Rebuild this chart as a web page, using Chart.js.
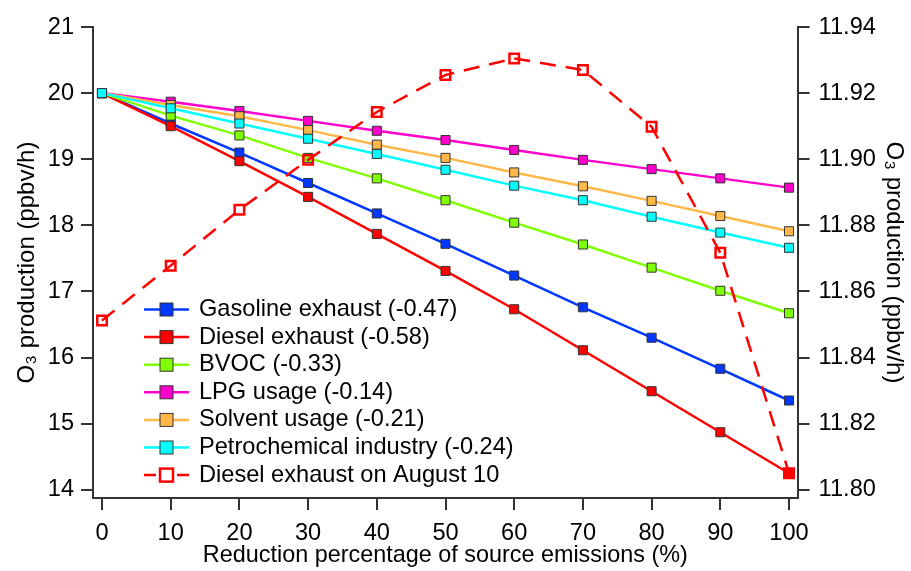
<!DOCTYPE html>
<html>
<head>
<meta charset="utf-8">
<script src="https://cdn.jsdelivr.net/npm/chart.js@4/dist/chart.umd.min.js"></script>
<style>
  html, body { margin: 0; padding: 0; background: #fff; }
  #wrap { width: 911px; height: 571px; }
</style>
</head>
<body>
<div id="wrap"><canvas id="o3Chart" width="911" height="571"></canvas></div>
<script>
// reduction percentage (x)
const reduction = [0, 10, 20, 30, 40, 50, 60, 70, 80, 90, 100];

// O3 production, left axis (ppbv/h)
const gasoline = [20, 19.54, 19.10, 18.64, 18.18, 17.72, 17.24, 16.76, 16.30, 15.83, 15.35];
const diesel   = [20, 19.50, 18.97, 18.43, 17.87, 17.31, 16.73, 16.11, 15.49, 14.87, 14.25];
const bvoc     = [20, 19.66, 19.36, 19.02, 18.71, 18.38, 18.04, 17.71, 17.36, 17.01, 16.67];
const lpg      = [20, 19.87, 19.73, 19.58, 19.43, 19.29, 19.14, 18.99, 18.85, 18.71, 18.57];
const solvent  = [20, 19.82, 19.65, 19.44, 19.22, 19.02, 18.80, 18.59, 18.37, 18.14, 17.91];
const petro    = [20, 19.77, 19.54, 19.31, 19.08, 18.84, 18.60, 18.38, 18.13, 17.89, 17.66];

// diesel exhaust on August 10, right axis
const dieselAug10 = [11.8512, 11.8678, 11.8847, 11.8998, 11.9143, 11.9255, 11.9305, 11.9270, 11.9098, 11.8717, 11.8050];

const seriesNames = [
    'Gasoline exhaust (-0.47)',
    'Diesel exhaust (-0.58)',
    'BVOC (-0.33)',
    'LPG usage (-0.14)',
    'Solvent usage (-0.21)',
    'Petrochemical industry (-0.24)',
    'Diesel exhaust on August 10'
];

// tick labels
const xTicks = [0, 10, 20, 30, 40, 50, 60, 70, 80, 90, 100];
const leftTicks = [14, 15, 16, 17, 18, 19, 20, 21];
const rightTicks = [11.80, 11.82, 11.84, 11.86, 11.88, 11.90, 11.92, 11.94];

const FONT = "'Liberation Sans', Arial, sans-serif";
const AXIS = '#333';

function pts(arr) {
    return arr.map((v, i) => ({ x: reduction[i], y: v }));
}

function solid(label, data, color, order) {
    return {
        label: label,
        data: pts(data),
        borderColor: color,
        backgroundColor: color,
        borderWidth: 2.5,
        pointStyle: 'rect',
        pointRadius: 6.4,
        pointBackgroundColor: color,
        pointBorderColor: AXIS,
        pointBorderWidth: 1,
        yAxisID: 'y',
        order: order
    };
}

const datasets = [
    solid(seriesNames[0], gasoline, '#0038FF', 6),
    solid(seriesNames[1], diesel, '#FF0000', 5),
    solid(seriesNames[2], bvoc, '#80FF00', 4),
    solid(seriesNames[3], lpg, '#FF00CC', 3),
    solid(seriesNames[4], solvent, '#FFB848', 2),
    solid(seriesNames[5], petro, '#00FFFF', 1),
    {
        label: seriesNames[6],
        data: pts(dieselAug10),
        borderColor: '#FF0000',
        borderWidth: 2.5,
        borderDash: [16, 10],
        pointStyle: 'rect',
        pointRadius: 6.7,
        pointBackgroundColor: 'rgba(255,255,255,0)',
        pointBorderColor: '#FF0000',
        pointBorderWidth: 2.5,
        yAxisID: 'y2',
        order: 0
    }
];

// legend sits inside the plot, drawn by hand
const innerLegend = {
    id: 'innerLegend',
    afterDraw(chart) {
        const ctx = chart.ctx;
        const x0 = 144, x1 = 189, mx = 166.5, tx = 199;
        let y = 309.5;
        ctx.save();
        ctx.font = '23.6px ' + FONT;
        ctx.textBaseline = 'middle';
        ctx.fillStyle = '#000';
        chart.data.datasets.forEach(ds => {
            ctx.lineWidth = 2.5;
            ctx.strokeStyle = ds.borderColor;
            ctx.setLineDash([]);
            if (ds.borderDash) {
                ctx.beginPath();
                ctx.moveTo(x0, y); ctx.lineTo(156, y);
                ctx.moveTo(177, y); ctx.lineTo(x1, y);
                ctx.stroke();
                ctx.strokeStyle = ds.pointBorderColor;
                ctx.strokeRect(mx - 6.5, y - 6.5, 13, 13);
            } else {
                ctx.beginPath();
                ctx.moveTo(x0, y); ctx.lineTo(x1, y);
                ctx.stroke();
                ctx.fillStyle = ds.pointBackgroundColor;
                ctx.fillRect(mx - 6.5, y - 6.5, 13, 13);
                ctx.lineWidth = 1;
                ctx.strokeStyle = AXIS;
                ctx.strokeRect(mx - 6.5, y - 6.5, 13, 13);
            }
            ctx.fillStyle = '#000';
            ctx.fillText(ds.label, tx, y);
            y += 27.6;
        });
        ctx.restore();
    }
};

const gridOpts = { drawOnChartArea: false, drawTicks: true, tickLength: 12, color: AXIS, lineWidth: 2 };
const borderOpts = { display: true, color: AXIS, width: 2 };
const tickFont = { family: FONT, size: 23.6 };
const titleFont = { family: FONT, size: 24 };

new Chart(document.getElementById('o3Chart').getContext('2d'), {
    type: 'line',
    data: { datasets: datasets },
    plugins: [innerLegend],
    options: {
        responsive: false,
        animation: false,
        devicePixelRatio: 1,
        layout: { padding: { top: 27, left: 0, right: 0, bottom: 0 } },
        plugins: {
            legend: { display: false },
            tooltip: { enabled: false }
        },
        scales: {
            x: {
                type: 'linear',
                min: -1.31,
                max: 101.25,
                grid: gridOpts,
                border: borderOpts,
                afterBuildTicks: s => { s.ticks = xTicks.map(v => ({ value: v })); },
                afterFit: s => { s.height = 73; },
                ticks: { color: '#000', font: tickFont, padding: 9, maxRotation: 0, callback: v => String(v) },
                title: {
                    display: true,
                    text: 'Reduction percentage of source emissions (%)',
                    color: '#000',
                    font: { family: FONT, size: 23.4 },
                    padding: { top: 0, bottom: 1 }
                }
            },
            y: {
                type: 'linear',
                position: 'left',
                min: 13.875,
                max: 21,
                grid: gridOpts,
                border: borderOpts,
                afterBuildTicks: s => { s.ticks = leftTicks.map(v => ({ value: v })); },
                afterFit: s => { s.width = 93; },
                ticks: { color: '#000', font: tickFont, padding: 7, callback: v => String(v) },
                title: {
                    display: true,
                    text: 'O₃ production (ppbv/h)',
                    color: '#000',
                    font: titleFont,
                    padding: { top: 13, bottom: 0 }
                }
            },
            y2: {
                type: 'linear',
                position: 'right',
                min: 11.7975,
                max: 11.94,
                grid: gridOpts,
                border: borderOpts,
                afterBuildTicks: s => { s.ticks = rightTicks.map(v => ({ value: v })); },
                afterFit: s => { s.width = 113.4; },
                ticks: { color: '#000', font: tickFont, padding: 9, callback: v => v.toFixed(2) },
                title: {
                    display: true,
                    text: 'O₃ production (ppbv/h)',
                    color: '#000',
                    font: titleFont,
                    padding: { top: 3, bottom: 0 }
                }
            }
        }
    }
});
</script>
</body>
</html>
